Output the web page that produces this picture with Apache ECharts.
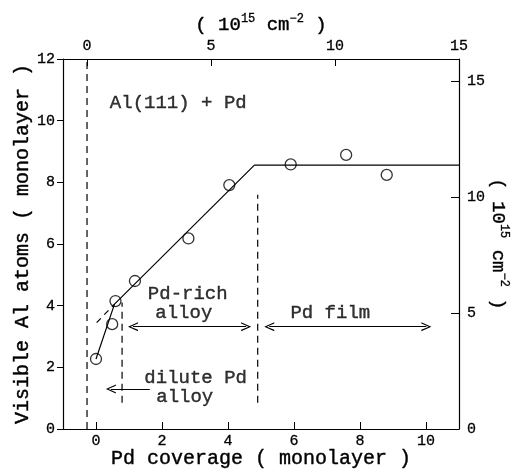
<!DOCTYPE html>
<html>
<head>
<meta charset="utf-8">
<script src="https://cdn.jsdelivr.net/npm/echarts@6/dist/echarts.min.js"></script>
<style>html,body{margin:0;padding:0;background:#fff}#c{width:513px;height:469px}</style>
</head>
<body>
<div id="c"></div>
<script>
// ---- data ----
const coverage   = [0.00, 0.49, 0.59, 1.18, 2.80, 4.04, 5.90, 7.58, 8.81];
const visibleAl  = [2.27, 3.40, 4.15, 4.80, 6.18, 7.91, 8.58, 8.89, 8.24];
const fitX = [0.00, 0.56, 4.80, 11.0];
const fitY = [2.27, 4.05, 8.56, 8.56];
const extX = [0.02, 0.56];
const extY = [3.45, 4.05];
const boundX    = [-0.272, 0.79, 4.90];
const boundLow  = [0, 0.85, 0.85];
const boundHigh = [12, 4.10, 7.60];
const arrowFromX = [1.12, 5.25, 1.63];
const arrowToX   = [4.55, 10.01, 0.45];
const arrowY     = [3.32, 3.32, 1.30];
const arrowBoth  = [true, true, false];
const noteText = ['Al(111) + Pd', 'Pd-rich', 'alloy', 'Pd film', 'dilute Pd', 'alloy'];
const noteX    = [0.42, 2.78, 2.66, 7.10, 3.02, 2.69];
const noteY    = [10.57, 4.38, 3.76, 3.76, 1.65, 1.04];
const noteAlign = ['left', 'center', 'center', 'center', 'center', 'center'];
const bottomTicks = [0, 2, 4, 6, 8, 10];
const topTicks = [0, 5, 10, 15];
const rightTicks = [0, 5, 10, 15];
const topMax = 15, topMin = -0.969;   // 10^15 cm^-2 range of top axis
const rightMax = 15.97;               // 10^15 cm^-2 at 12 monolayer

const FONT = 'Liberation Mono';
const xMin = -1, xMax = 11, yMin = 0, yMax = 12;

const chart = echarts.init(document.getElementById('c'), null, {renderer: 'canvas'});
const axisLine = {show: true, onZero: false, lineStyle: {color: '#000', width: 1.2}};
const tickLab = {color: '#000', fontFamily: FONT, fontSize: 15, textBorderColor: '#000', textBorderWidth: 0.3};
const chevron = 'path://M0,10 L5,0 L10,10 L8.6,10 L5,2.6 L1.4,10 Z';

const series = [];
series.push({
  type: 'line', data: fitX.map((x, i) => [x, fitY[i]]), showSymbol: false, symbol: 'none',
  lineStyle: {color: '#000', width: 1.2}, silent: true, z: 3
});
series.push({
  type: 'line', data: extX.map((x, i) => [x, extY[i]]), showSymbol: false, symbol: 'none',
  lineStyle: {color: '#000', width: 1.2, type: [6, 5]}, silent: true, z: 3
});
boundX.forEach((x, i) => {
  series.push({
    type: 'line', data: [[x, boundLow[i]], [x, boundHigh[i]]], showSymbol: false, symbol: 'none',
    lineStyle: {color: '#000', width: 1.2, type: [7, 5]}, silent: true, z: 2
  });
});
series.push({
  type: 'line', data: [], silent: true,
  markLine: {
    silent: true, animation: false,
    symbolSize: [9, 10],
    label: {show: false},
    lineStyle: {color: '#000', width: 1.2, type: 'solid'},
    data: arrowFromX.map((x, i) => [
      {coord: [x, arrowY[i]], symbol: arrowBoth[i] ? chevron : 'none'},
      {coord: [arrowToX[i], arrowY[i]], symbol: chevron}
    ])
  }
});
series.push({
  type: 'scatter', data: coverage.map((x, i) => [x, visibleAl[i]]),
  symbol: 'circle', symbolSize: 11,
  itemStyle: {color: 'rgba(0,0,0,0)', borderColor: '#000', borderWidth: 1.3},
  silent: true, z: 5
});
series.push({
  type: 'scatter', symbolSize: 0, silent: true, z: 6,
  data: noteText.map((t, i) => ({
    value: [noteX[i], noteY[i]],
    label: {show: true, formatter: t, position: 'inside', align: noteAlign[i], verticalAlign: 'middle',
      color: '#000', fontFamily: FONT, fontSize: 19, textBorderColor: '#000', textBorderWidth: 0.4}
  }))
});

const supRich = {
  m: {fontFamily: FONT, fontSize: 19, color: '#000', lineHeight: 24, textBorderColor: '#000', textBorderWidth: 0.4},
  s: {fontFamily: FONT, fontSize: 12, color: '#000', verticalAlign: 'top', lineHeight: 24, textBorderColor: '#000', textBorderWidth: 0.3}
};
const densName = '{m|( 10}{s|15}{m| cm}{s|−2}{m| )}';
const titleStyle = {fontFamily: FONT, fontSize: 20, color: '#000', textBorderColor: '#000', textBorderWidth: 0.4};

chart.setOption({
  animation: false,
  backgroundColor: '#fff',
  grid: {left: 63, right: 54, top: 59, bottom: 40, outerBoundsMode: 'none', containLabel: false},
  xAxis: [{
    type: 'value', position: 'bottom', min: xMin, max: xMax,
    axisLine, splitLine: {show: false},
    axisTick: {inside: true, length: 7, customValues: bottomTicks, lineStyle: {color: '#000'}},
    axisLabel: Object.assign({customValues: bottomTicks, margin: 5}, tickLab),
    name: 'Pd coverage ( monolayer )', nameLocation: 'middle', nameGap: 20, nameMoveOverlap: false,
    nameTextStyle: titleStyle
  }, {
    type: 'value', position: 'top', min: topMin, max: topMax,
    axisLine, splitLine: {show: false},
    axisTick: {inside: true, length: 7, customValues: topTicks, lineStyle: {color: '#000'}},
    axisLabel: Object.assign({customValues: topTicks, margin: 5}, tickLab),
    name: densName, nameLocation: 'middle', nameGap: 22, nameMoveOverlap: false,
    nameTextStyle: {rich: supRich}
  }],
  yAxis: [{
    type: 'value', position: 'left', min: yMin, max: yMax, interval: 2,
    axisLine, splitLine: {show: false},
    axisTick: {inside: false, length: 6, lineStyle: {color: '#000'}},
    axisLabel: Object.assign({margin: 8}, tickLab),
    name: 'Visible Al atoms ( monolayer )', nameLocation: 'middle', nameGap: 30, nameMoveOverlap: false,
    nameTextStyle: titleStyle
  }, {
    type: 'value', position: 'right', min: 0, max: rightMax,
    axisLine, splitLine: {show: false},
    axisTick: {inside: true, length: 8, customValues: rightTicks, lineStyle: {color: '#000'}},
    axisLabel: Object.assign({customValues: rightTicks, margin: 8}, tickLab),
    name: densName, nameLocation: 'middle', nameGap: 27, nameRotate: -90, nameMoveOverlap: false,
    nameTextStyle: {rich: supRich}
  }],
  series
});
</script>
</body>
</html>
